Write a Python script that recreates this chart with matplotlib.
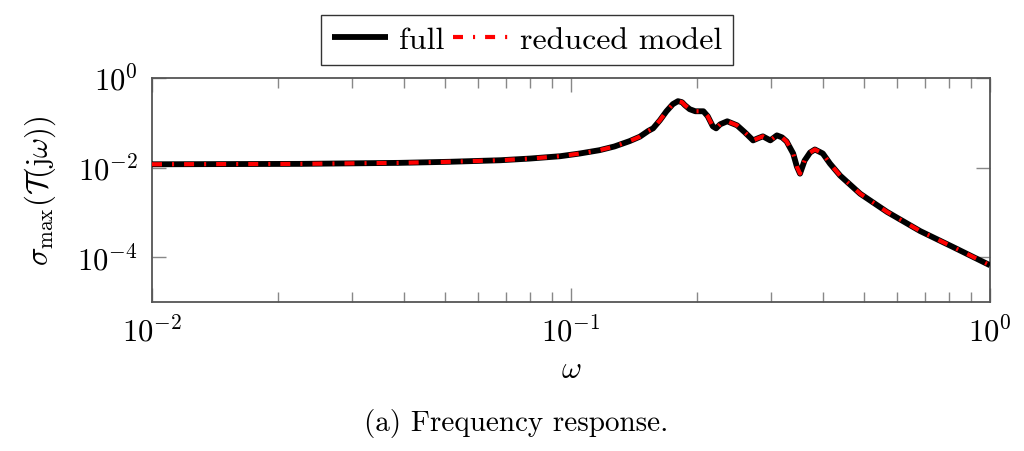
import matplotlib
matplotlib.use("Agg")
import matplotlib.pyplot as plt
from matplotlib.ticker import LogLocator, NullFormatter, FixedLocator

plt.rcParams['font.family'] = 'serif'
plt.rcParams['font.serif'] = ['cmr10', 'DejaVu Serif']
plt.rcParams['mathtext.fontset'] = 'cm'
plt.rcParams['axes.formatter.use_mathtext'] = True

omega = [0.01, 0.02254, 0.03908, 0.0514, 0.0678, 0.0798, 0.0942, 0.105, 0.117, 0.127,
         0.138, 0.146, 0.153, 0.157, 0.163, 0.169, 0.175, 0.180, 0.184, 0.187,
         0.192, 0.198, 0.207, 0.212, 0.218, 0.222, 0.227, 0.236, 0.249, 0.260,
         0.272, 0.279, 0.287, 0.299, 0.310, 0.319, 0.327, 0.339, 0.346, 0.352,
         0.361, 0.372, 0.382, 0.399, 0.415, 0.439, 0.490, 0.568, 0.681, 0.817, 1.0]
sigma_full = [0.01186, 0.01211, 0.01276, 0.01349, 0.01459, 0.01592, 0.01795, 0.02065, 0.02449, 0.02965,
              0.0390, 0.0490, 0.0661, 0.0752, 0.1138, 0.1811, 0.2606, 0.304, 0.289, 0.247,
              0.201, 0.181, 0.181, 0.140, 0.0834, 0.0752, 0.0925, 0.108, 0.0879, 0.0612,
              0.0405, 0.0449, 0.0498, 0.0405, 0.0524, 0.0472, 0.0384, 0.02065, 0.01052, 0.00733,
              0.01435, 0.0217, 0.0254, 0.02065, 0.0123, 0.00661, 0.00261, 0.001026, 0.000384, 0.000168, 6.61e-5]
sigma_reduced = list(sigma_full)

W, H = 1024, 452
fig = plt.figure(figsize=(W / 100, H / 100), dpi=100)
ax = fig.add_axes([152 / W, 1 - 303 / H, (990 - 152) / W, (303 - 79) / H])

ax.plot(omega, sigma_full, color='black', lw=4.2, solid_capstyle='butt', label='full', zorder=3)
ax.plot(omega, sigma_reduced, color='red', lw=3.0, dashes=(2.4, 2.4, 0.5, 2.4),
        dash_capstyle='butt', label='reduced model', zorder=4)

ax.set_xscale('log')
ax.set_yscale('log')
ax.set_xlim(1e-2, 1e0)
ax.set_ylim(1e-5, 1e0)

ax.xaxis.set_major_locator(FixedLocator([1e-2, 1e-1, 1e0]))
ax.xaxis.set_minor_locator(LogLocator(base=10, subs=range(2, 10)))
ax.xaxis.set_minor_formatter(NullFormatter())
ax.yaxis.set_major_locator(FixedLocator([1e-4, 1e-2, 1e0]))
ax.yaxis.set_minor_locator(FixedLocator([]))

ax.tick_params(which='both', direction='in', top=True, right=True, colors='#888888',
               labelcolor='black', labelsize=22)
ax.tick_params(which='major', length=10, width=1.0, pad=10)
ax.tick_params(which='minor', length=7, width=1.0)
for s in ax.spines.values():
    s.set_color('#555555')
    s.set_linewidth(1.3)

ax.set_xlabel(r'$\omega$', fontsize=22, labelpad=6)
ax.set_ylabel(r'$\sigma_{\max}(\mathcal{T}(\mathrm{j}\omega))$', fontsize=22, labelpad=14)

leg = fig.legend(loc='center', bbox_to_anchor=(527 / W, 1 - 41 / H), ncol=2, fontsize=23,
                 frameon=True, fancybox=False, edgecolor='black', handlelength=1.75,
                 columnspacing=0.25, handletextpad=0.35, borderpad=0.35)
leg.get_frame().set_linewidth(1.0)

fig.text(516 / W, 1 - 424 / H, '(a) Frequency response.', ha='center', va='center', fontsize=21)

fig.savefig('out.png', dpi=100)
